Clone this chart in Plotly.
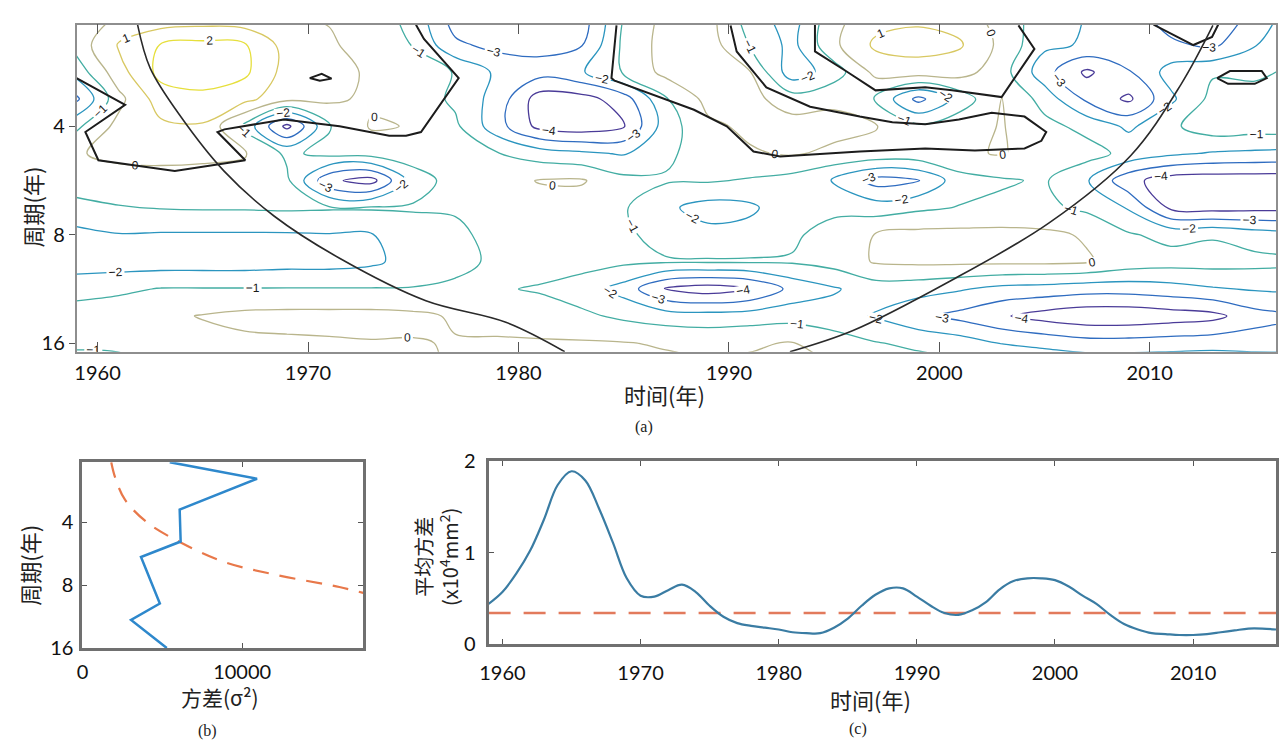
import numpy as np
import plotly.graph_objects as go

W, H = 1279, 751

# ---------------- (a) wavelet power (log2 of normalised power) ----------------
GRID_YEARS = [1959, 1961, 1963, 1965, 1967, 1969, 1971, 1973, 1975, 1977,
              1979, 1981, 1983, 1985, 1987, 1989, 1991, 1993, 1995, 1997,
              1999, 2001, 2003, 2005, 2007, 2009, 2011, 2013, 2015, 2017]
GRID_PERIODS = [2.00, 2.38, 2.83, 3.36, 4.00, 4.76, 5.66, 6.73,
                8.00, 9.51, 11.31, 13.45, 16.00, 19.03]

POWER_P2_00 = [-0.3, 0.05, 0.3, 0.4, 0.3, 0.05, -0.05, -0.5, -1.3, -3.5, -3.8, -3.8, -3.5, -0.95, 0.3,
               0.4, -1.5, -2.5, -0.3, 0.6, 0.8, 0.6, -0.5, -1.5, -2.05, -2.5, -3.5, -4.2, -2.5, -1.5]
POWER_P2_38 = [-0.6, 1.1, 2.05, 2.3, 2.1, 0.6, 0.1, -0.3, -1.05, -2.8, -3.3, -3.3, -3.05, -0.8, 0.4,
               0.5, -1.05, -2.3, -0.2, 1.2, 1.4, 1.1, -0.3, -1.8, -2.1, -2.05, -2.8, -3.2, -2.05, -1.2]
POWER_P2_83 = [-1.6, 0.6, 2.3, 2.6, 2.2, 0.6, 0.5, -0.2, -0.5, -1.05, -2.2, -2.6, -2.1, -0.9, 0.3,
               0.4, 0.05, -2.6, -1.5, 0.3, 0.5, 0.4, -0.6, -2.6, -4.2, -3.1, -1.6, -1.1, -1.2, -0.8]
POWER_P3_36 = [-3.2, -0.3, 1.5, 1.7, 1.3, 0.3, 0.2, -0.2, -0.4, -1.2, -2.4, -4.5, -4.4, -3.5, -1.1,
               0.3, 0.3, -0.5, -0.2, -1.1, -3.3, -1.6, 0.05, -1.4, -3.2, -4.2, -2.2, -0.7, -0.6, -0.5]
POWER_P4_00 = [-1.2, 0.3, 0.8, 0.9, -1.3, -4.3, -1.1, 0.1, -0.05, -0.8, -2.6, -4.3, -4.6, -4.1, -1.5,
               -0.2, 0.2, 0.4, 0.3, 0.05, -0.8, -0.3, 0.05, -0.7, -1.3, -2.2, -1.2, -0.4, -0.5, -0.4]
POWER_P4_76 = [-0.1, 0.3, 0.4, 0.3, 0.1, -1.2, -0.7, -0.6, -0.5, -0.7, -0.95, -1.5, -1.8, -2.1, -1.2,
               -0.5, -0.1, 0.1, -0.2, -0.3, -0.3, -0.1, 0.05, -0.4, -0.6, -1.3, -1.8, -2.1, -2.2, -2.3]
POWER_P5_66 = [-0.5, -0.5, -0.5, -0.5, -0.5, -0.8, -3.8, -4.4, -1.5, -0.6, -0.4, 0.05, 0.1, -0.7, -0.9,
               -0.9, -1.1, -1.4, -2.1, -3.4, -3.05, -1.4, -1.1, -0.9, -1.9, -3.7, -4.5, -4.6, -4.6, -4.6]
POWER_P6_73 = [-1.3, -1.05, -0.95, -0.9, -0.9, -0.85, -0.9, -0.9, -0.9, -0.9, -0.6, -0.4, -0.5, -0.9, -1.8,
               -2.4, -2.2, -1.3, -1.3, -1.5, -1.2, -0.95, -0.8, -0.8, -1.2, -2.1, -4.2, -4.4, -4.3, -4.3]
POWER_P8_00 = [-2.3, -2.05, -2.1, -2.1, -2.1, -2.1, -2.05, -2.05, -1.5, -1.2, -0.7, -0.5, -0.5, -0.8, -1.4,
               -1.7, -1.6, -1.2, -0.5, 0.05, 0.3, 0.3, 0.3, 0.2, -0.1, -0.9, -1.3, -1.1, -1.5, -1.7]
POWER_P9_51 = [-2.5, -2.5, -2.5, -2.5, -2.5, -2.4, -2.4, -2.2, -1.6, -1.3, -0.8, -0.5, -0.6, -0.8, -0.9,
               -0.9, -0.9, -0.9, -0.6, 0.1, 0.2, 0.2, 0.2, 0.2, 0.1, -0.4, -0.6, -0.6, -0.7, -0.8]
POWER_P11_31 = [-1.4, -1.2, -0.95, -0.95, -0.95, -0.95, -0.95, -0.95, -0.95, -0.8, -0.9, -1.1, -1.5, -2.4, -4.1,
                -4.5, -4.1, -2.7, -2.1, -1.5, -1.6, -1.9, -2.3, -2.4, -2.6, -2.6, -2.4, -2.1, -1.9, -1.8]
POWER_P13_45 = [-0.5, -0.4, -0.2, 0.05, 0.25, 0.3, 0.3, 0.3, 0.2, -0.1, -0.3, -0.5, -0.8, -1.2, -1.5,
                -1.6, -1.5, -1.4, -1.6, -2.1, -2.8, -3.3, -3.9, -4.4, -4.7, -4.7, -4.5, -4.3, -3.4, -3.1]
POWER_P16_00 = [-0.9, -0.9, -0.6, -0.3, -0.2, -0.15, -0.1, -0.05, -0.05, 0.05, 0.1, 0.1, 0.1, 0.05, -0.1,
                -0.2, -0.1, 0.05, -0.5, -0.95, -1.2, -1.5, -2.05, -2.3, -2.6, -2.6, -2.5, -2.4, -2.5, -2.5]
POWER_P19_03 = [-1.3, -1.2, -1.05, -0.8, -0.6, -0.5, -0.4, -0.3, -0.2, 0.1, 0.2, 0.3, 0.3, 0.3, 0.3,
                0.2, 0.2, 0.2, 0.05, -0.5, -0.5, -0.6, -0.8, -0.8, -0.9, -0.9, -0.9, -0.9, -0.95, -0.95]

# significance (95%) contours: (year, period)
SIG1_YEARS = [1975.13, 1975.51, 1977.16, 1975.37, 1974.66, 1973.86, 1971.50, 1968.86, 1966.03,
              1965.70, 1967.02, 1963.67, 1960.04, 1959.42, 1961.31, 1959.0]
SIG1_PERIODS = [2.09, 2.29, 2.94, 4.15, 4.25, 4.25, 4.00, 3.83, 4.08, 4.15, 4.97, 5.32, 4.97,
                4.15, 3.49, 2.94]
SIG2_YEARS = [1984.66, 1984.42, 1984.57, 1988.34, 1989.90, 1991.17, 1992.44, 1996.22, 1999.33,
              2001.69, 2004.05, 2004.85, 2005.08, 2004.05, 2002.49, 2000.93, 1999.33, 1997.77,
              1996.22, 1993.86, 1991.78, 1990.37, 1990.08]
SIG2_PERIODS = [2.10, 2.94, 2.99, 3.60, 4.00, 4.70, 4.85, 4.70, 4.61, 4.67, 4.61, 4.39, 4.15,
                3.76, 3.67, 3.83, 3.95, 3.90, 3.76, 3.53, 3.12, 2.48, 2.10]
SIG3_YEARS = [1994.09, 1994.09, 1995.56, 1996.97, 1999.33, 2000.60, 2002.96, 2004.52, 2003.76]
SIG3_PERIODS = [2.09, 2.48, 2.81, 3.18, 3.12, 3.18, 3.32, 2.44, 2.10]
SIG4_YEARS = [2010.18, 2012.07, 2012.96, 2013.25]
SIG4_PERIODS = [2.09, 2.38, 2.26, 2.09]
SIG5_YEARS = [1970.08, 1970.65, 1971.12, 1970.56, 1970.08]
SIG5_PERIODS = [2.94, 2.86, 2.95, 2.99, 2.94]
SIG6_YEARS = [2013.20, 2013.81, 2015.32, 2015.56, 2014.99, 2013.72, 2013.20]
SIG6_PERIODS = [2.94, 2.81, 2.81, 2.94, 3.05, 3.05, 2.94]

# cone of influence
COI_LEFT_YEARS = [1961.9, 1962.5, 1963.95, 1966.0, 1968.4, 1971.5, 1975.6, 1979.4, 1982.2]
COI_LEFT_PERIODS = [2.09, 2.76, 3.76, 5.32, 7.11, 9.3, 12.2, 14.0, 16.9]
COI_RIGHT_YEARS = [1992.9, 1995.9, 2000.5, 2005.2, 2009.1, 2011.5, 2013.0]
COI_RIGHT_PERIODS = [16.9, 14.76, 10.77, 7.43, 4.82, 3.05, 2.10]

# ---------------- (b) global wavelet spectrum ----------------
GWS_PERIODS = [2.065, 2.48, 3.48, 4.95, 5.87, 9.80, 11.75, 16.0]
GWS_VARIANCE = [5466, 10932, 6087, 6149, 3665, 4845, 3043, 5280]
GWS_SIG_PERIODS = [2.065, 2.45, 3.13, 4.04, 5.0, 6.20, 7.11, 8.17, 8.71]
GWS_SIG_VARIANCE = [1801, 2050, 2671, 4099, 6149, 8882, 11988, 16087, 17578]
GWS_TICKS = [0, 10000]

# ---------------- (c) scale-averaged variance ----------------
AVG_YEARS = list(range(1959, 2017))
AVG_VARIANCE = [0.44, 0.57, 0.77, 1.02, 1.36, 1.74, 1.89, 1.79, 1.48, 1.11,
                0.72, 0.53, 0.52, 0.59, 0.65, 0.57, 0.42, 0.30, 0.23, 0.20,
                0.18, 0.16, 0.13, 0.12, 0.12, 0.18, 0.28, 0.42, 0.54, 0.61,
                0.61, 0.52, 0.42, 0.34, 0.32, 0.37, 0.46, 0.60, 0.69, 0.72,
                0.72, 0.70, 0.63, 0.53, 0.44, 0.32, 0.22, 0.16, 0.12, 0.11,
                0.10, 0.10, 0.11, 0.13, 0.15, 0.17, 0.17, 0.16]
AVG_SIG_LEVEL = 0.34

TICK_YEARS = [1960, 1970, 1980, 1990, 2000, 2010]
PERIOD_TICKS = [4, 8, 16]

z = [POWER_P2_00, POWER_P2_38, POWER_P2_83, POWER_P3_36, POWER_P4_00, POWER_P4_76,
     POWER_P5_66, POWER_P6_73, POWER_P8_00, POWER_P9_51, POWER_P11_31, POWER_P13_45,
     POWER_P16_00, POWER_P19_03]

TICKFONT = dict(family="Lato, 'Liberation Sans', sans-serif", size=20, color="#111")
CJK = "'Noto Sans CJK SC', sans-serif"

fig = go.Figure()

parula = [[0.0, '#4a3b98'], [1 / 6, '#2f6cc0'], [2 / 6, '#2b95bf'], [3 / 6, '#43ada3'],
          [4 / 6, '#b9b58c'], [5 / 6, '#d8c862'], [1.0, '#e6df3c']]

fig.add_trace(go.Contour(
    x=GRID_YEARS, y=GRID_PERIODS, z=z, xaxis='x', yaxis='y',
    colorscale=parula, zmin=-4, zmax=2, showscale=False,
    contours=dict(start=-4, end=2, size=1, coloring='lines', showlabels=True,
                  labelfont=dict(size=12, color='#1a1a1a', family="'Liberation Sans', Arial")),
    line=dict(width=1.3), hoverinfo='skip'))

for xs, ys in [(SIG1_YEARS, SIG1_PERIODS), (SIG2_YEARS, SIG2_PERIODS), (SIG3_YEARS, SIG3_PERIODS),
               (SIG4_YEARS, SIG4_PERIODS), (SIG5_YEARS, SIG5_PERIODS), (SIG6_YEARS, SIG6_PERIODS)]:
    fig.add_trace(go.Scatter(x=xs, y=ys, mode='lines', xaxis='x', yaxis='y',
                             line=dict(color='#1c1c1c', width=2), showlegend=False, hoverinfo='skip'))

for xs, ys in [(COI_LEFT_YEARS, COI_LEFT_PERIODS), (COI_RIGHT_YEARS, COI_RIGHT_PERIODS)]:
    fig.add_trace(go.Scatter(x=xs, y=ys, mode='lines', xaxis='x', yaxis='y',
                             line=dict(color='#2a2a2a', width=1.6, shape='spline'),
                             showlegend=False, hoverinfo='skip'))

# (b)
fig.add_trace(go.Scatter(x=GWS_SIG_VARIANCE, y=GWS_SIG_PERIODS, mode='lines', xaxis='x2', yaxis='y2',
                         line=dict(color='#e8784a', width=2.2, dash='16px,11px', shape='spline'),
                         showlegend=False))
fig.add_trace(go.Scatter(x=GWS_VARIANCE, y=GWS_PERIODS, mode='lines', xaxis='x2', yaxis='y2',
                         line=dict(color='#2e88cc', width=2.5), showlegend=False))

# (c)
fig.add_trace(go.Scatter(x=[AVG_YEARS[0], AVG_YEARS[-1]], y=[AVG_SIG_LEVEL, AVG_SIG_LEVEL],
                         mode='lines', xaxis='x3', yaxis='y3',
                         line=dict(color='#e27a5c', width=2.5, dash='22px,13px'), showlegend=False))
fig.add_trace(go.Scatter(x=AVG_YEARS, y=AVG_VARIANCE, mode='lines', xaxis='x3', yaxis='y3',
                         line=dict(color='#3a7ca3', width=2.2, shape='spline'), showlegend=False))


def dom_x(a, b):
    return [a / W, b / W]


def dom_y(top, bottom):
    return [1 - bottom / H, 1 - top / H]


thin = dict(showline=True, linecolor='#8e8e8e', linewidth=1.5, showgrid=False, zeroline=False,
            tickfont=TICKFONT, tickcolor='#555')
thick = dict(showline=True, linecolor='#707070', linewidth=3, showgrid=False, zeroline=False,
             mirror='ticks', tickfont=TICKFONT, tickcolor='#555', ticks='inside', ticklen=5)

fig.update_layout(
    width=W, height=H, margin=dict(l=0, r=0, t=0, b=0),
    paper_bgcolor='white', plot_bgcolor='white', showlegend=False,
    xaxis=dict(domain=dom_x(68, 1276), anchor='y', range=[1959, 2016], tickvals=TICK_YEARS,
               ticks='inside', ticklen=10, ticklabelstandoff=2, mirror='ticks', **thin),
    yaxis=dict(domain=dom_y(12, 350), anchor='x', type='log',
               range=[np.log10(16.91), np.log10(2.089)], tickvals=PERIOD_TICKS,
               ticktext=[str(v) for v in PERIOD_TICKS], ticks='outside', ticklen=6, mirror=True, **thin),
    xaxis2=dict(domain=dom_x(74, 357), anchor='y2', range=[0, 17600], tickvals=GWS_TICKS,
                ticktext=[str(v) for v in GWS_TICKS], ticklabelstandoff=4, **thick),
    yaxis2=dict(domain=dom_y(464, 656), anchor='x2', type='log',
                range=[np.log10(16.0), np.log10(2.065)], tickvals=PERIOD_TICKS,
                ticktext=[str(v) for v in PERIOD_TICKS], ticklabelstandoff=2, **thick),
    xaxis3=dict(domain=dom_x(483, 1276), anchor='y3', range=[1959, 2016], tickvals=TICK_YEARS,
                ticklabelstandoff=9, **thick),
    yaxis3=dict(domain=dom_y(463, 652), anchor='x3', range=[0, 2], tickvals=[0, 1, 2],
                ticklabelstandoff=6, **thick),
)

ann = [
    dict(text='周期(年)', x=23, y=200, textangle=-90, size=22, fam=CJK),
    dict(text='时间(年)', x=660, y=394, textangle=0, size=22, fam=CJK),
    dict(text='(a)', x=640, y=428, textangle=0, size=16, fam="'Liberation Serif', serif"),
    dict(text='周期(年)', x=20, y=570, textangle=-90, size=22, fam=CJK),
    dict(text='方差(σ²)', x=212, y=707, textangle=0, size=21, fam=CJK),
    dict(text='(b)', x=200, y=742, textangle=0, size=16, fam="'Liberation Serif', serif"),
    dict(text='平均方差<br>(x10<sup>4</sup>mm<sup>2</sup>)', x=430, y=562, textangle=-90, size=20, fam=CJK),
    dict(text='时间(年)', x=868, y=709, textangle=0, size=22, fam=CJK),
    dict(text='(c)', x=855, y=740, textangle=0, size=16, fam="'Liberation Serif', serif"),
]
fig.update_layout(annotations=[
    dict(text=a['text'], x=a['x'] / W, y=1 - a['y'] / H, xref='paper', yref='paper',
         xanchor='center', yanchor='middle', showarrow=False, textangle=a['textangle'],
         font=dict(size=a['size'], family=a['fam'], color='#222')) for a in ann])

fig.write_html("out.html")
